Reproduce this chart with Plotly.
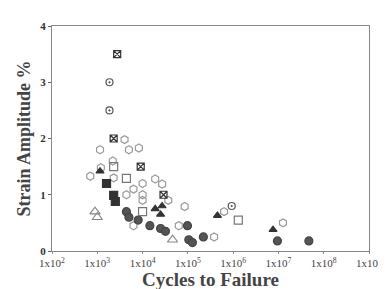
import plotly.graph_objects as go

# Cycles to failure (N) and strain amplitude (%) per marker group
open_circle_n = [4.0e3, 5.0e3, 8.3e3, 1.15e3, 7.0e2, 1.2e3, 1.9e4, 2.7e4, 1.0e4, 6.3e3, 1.0e4, 3.7e4, 8.5e4, 6.3e4, 3.8e5, 6.3e5, 1.26e7, 2.2e3, 2.3e3, 4.4e3, 6.3e3, 1.0e4]
open_circle_s = [1.98, 1.80, 1.83, 1.80, 1.33, 1.48, 1.28, 1.19, 1.20, 1.10, 1.00, 0.90, 0.79, 0.45, 0.25, 0.70, 0.50, 1.60, 1.30, 1.00, 0.45, 0.90]
filled_circle_n = [4.4e3, 5.0e3, 8.0e3, 1.45e4, 2.5e4, 3.2e4, 9.8e4, 1.05e5, 1.26e5, 2.2e5, 9.5e6, 4.7e7]
filled_circle_s = [0.70, 0.60, 0.55, 0.45, 0.40, 0.35, 0.45, 0.20, 0.15, 0.25, 0.18, 0.18]
open_square_n = [2.3e3, 4.4e3, 1.0e4, 1.3e6]
open_square_s = [1.50, 1.29, 0.70, 0.55]
square_x_n = [2.75e3, 9.1e3, 2.9e4, 2.3e3]
square_x_s = [3.50, 1.50, 1.00, 2.00]
circle_dot_n = [1.86e3, 1.86e3, 9.3e5]
circle_dot_s = [3.00, 2.50, 0.80]
dark_square_n = [2.3e3, 2.5e3, 1.6e3]
dark_square_s = [0.99, 0.88, 1.20]
filled_triangle_n = [1.9e4, 2.5e4, 2.7e4, 4.5e5, 7.6e6, 1.15e3]
filled_triangle_s = [0.75, 0.65, 0.80, 0.63, 0.38, 1.42]
open_triangle_n = [8.9e2, 1.0e3, 4.6e4]
open_triangle_s = [0.70, 0.60, 0.20]

x_tickvals = [1e2, 1e3, 1e4, 1e5, 1e6, 1e7, 1e8, 1e9]
x_ticktext = ["1x10<sup>2</sup>", "1x10<sup>3</sup>", "1x10<sup>4</sup>", "1x10<sup>5</sup>",
              "1x10<sup>6</sup>", "1x10<sup>7</sup>", "1x10<sup>8</sup>", "1x10<sup>9</sup>"]
y_tickvals = [0, 1, 2, 3, 4]

fig = go.Figure()

def add(n, s, symbol, color, line_color, size=8):
    fig.add_trace(go.Scatter(
        x=n, y=s, mode="markers",
        marker=dict(symbol=symbol, size=size, color=color,
                    line=dict(color=line_color, width=1.2)),
        showlegend=False))

add(open_circle_n, open_circle_s, "hexagon-open", "#9a9a9a", "#9a9a9a")
add(filled_circle_n, filled_circle_s, "circle", "#555555", "#444444")
add(open_square_n, open_square_s, "square-open", "#777777", "#777777")
add(square_x_n, square_x_s, "square-x-open", "#333333", "#333333", 7)
add(circle_dot_n, circle_dot_s, "circle-open-dot", "#555555", "#555555", 7)
add(dark_square_n, dark_square_s, "square", "#333333", "#333333")
add(filled_triangle_n, filled_triangle_s, "triangle-up", "#333333", "#333333", 7)
add(open_triangle_n, open_triangle_s, "triangle-up-open", "#888888", "#888888", 9)

serif = "Liberation Serif, Times New Roman, serif"

fig.update_layout(
    width=386, height=289,
    margin=dict(l=44, r=18, t=16, b=46),
    paper_bgcolor="white", plot_bgcolor="white",
    font=dict(family=serif, color="#333333"),
    xaxis=dict(
        type="log", range=[2, 9],
        tickvals=x_tickvals, ticktext=x_ticktext,
        tickfont=dict(size=11, family=serif, color="#444444"),
        showgrid=False, zeroline=False,
        showline=True, linecolor="#888888", linewidth=1, mirror=True,
        ticks="outside", ticklen=2, tickcolor="#888888",
        title=dict(text="<b>Cycles to Failure</b>", font=dict(size=19, family=serif, color="#444444"), standoff=0),
    ),
    yaxis=dict(
        range=[0, 4], tickvals=y_tickvals,
        ticktext=["<b>%d</b>" % v for v in y_tickvals],
        tickfont=dict(size=11, family=serif, color="#333333"),
        showgrid=False, zeroline=False,
        showline=True, linecolor="#888888", linewidth=1, mirror=True,
        ticks="outside", ticklen=3, tickcolor="#666666",
        title=dict(text="<b>Strain Amplitude %</b>", font=dict(size=18, family=serif, color="#444444"), standoff=4),
    ),
)

fig.write_html("out.html")
